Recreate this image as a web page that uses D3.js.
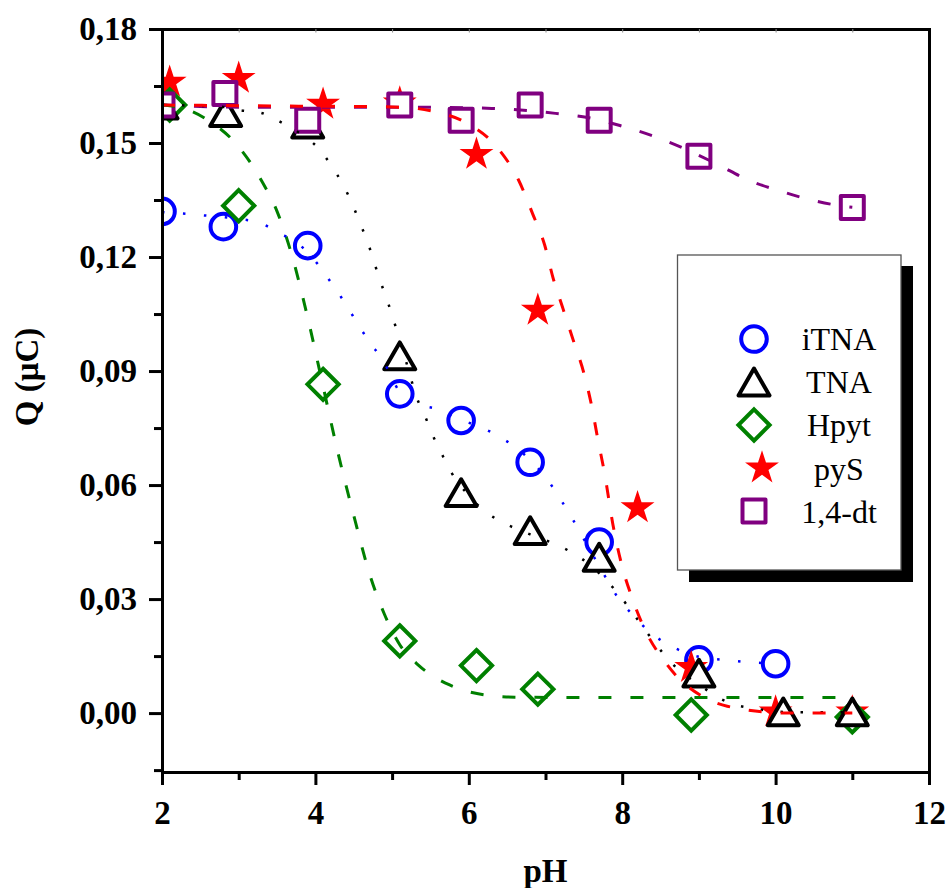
<!DOCTYPE html>
<html><head><meta charset="utf-8">
<script src="https://cdn.jsdelivr.net/npm/d3@7"></script>
<style>body{margin:0;background:#fff} svg{display:block} svg text{font-family:"Liberation Serif","Times New Roman",Times,serif;}</style>
</head><body>
<svg id="c" width="949" height="888"></svg>
<script>
// ---------- data ----------
const seriesNames = ["iTNA", "TNA", "Hpyt", "pyS", "1,4-dt"];

const pH_iTNA = [2.0, 2.8, 3.9, 5.1, 5.9, 6.8, 7.7, 9.0, 10.0];
const Q_iTNA  = [0.132, 0.128, 0.123, 0.084, 0.077, 0.066, 0.045, 0.014, 0.013];

const pH_TNA = [2.0, 2.83, 3.9, 5.1, 5.9, 6.8, 7.7, 9.0, 10.1, 11.0];
const Q_TNA  = [0.160, 0.158, 0.155, 0.094, 0.058, 0.048, 0.041, 0.0105, 0.0003, 0.0003];

const pH_Hpyt = [2.1, 3.0, 4.1, 5.1, 6.1, 6.9, 8.9, 11.0];
const Q_Hpyt  = [0.160, 0.1335, 0.0865, 0.019, 0.0125, 0.0063, -0.0005, -0.001];

const pH_pyS = [2.1, 3.0, 4.1, 5.1, 6.1, 6.9, 8.2, 8.9, 10.0, 11.0];
const Q_pyS  = [0.166, 0.167, 0.1602, 0.1605, 0.147, 0.106, 0.054, 0.012, 0.0003, 0.0003];

const pH_dt = [2.0, 2.82, 3.9, 5.1, 5.9, 6.8, 7.7, 9.0, 11.0];
const Q_dt  = [0.160, 0.163, 0.156, 0.160, 0.156, 0.160, 0.156, 0.1465, 0.133];

// fitted curves
const fit_iTNA_pH = [2.0, 2.23, 2.52, 3.01, 3.28, 3.51, 3.77, 4.02, 4.21, 4.38, 4.54, 4.70, 4.88, 5.1, 5.35, 5.58, 5.83, 6.34, 6.57, 6.83, 7.04, 7.21, 7.36, 7.50, 7.64, 7.79, 7.94, 8.14, 8.38, 8.64, 9.0, 9.39, 9.64, 10.0];
const fit_iTNA_Q  = [0.1318, 0.1315, 0.131, 0.130, 0.129, 0.1265, 0.1236, 0.1184, 0.1131, 0.1081, 0.1028, 0.0978, 0.0928, 0.0845, 0.0812, 0.0800, 0.0778, 0.0734, 0.0705, 0.066, 0.061, 0.0558, 0.0508, 0.0458, 0.0408, 0.0355, 0.0305, 0.0258, 0.021, 0.0176, 0.0148, 0.0139, 0.0134, 0.0131];

const fit_TNA_pH = [2.0, 2.8, 3.02, 3.28, 3.5, 3.8, 4.02, 4.21, 4.36, 4.48, 4.58, 4.68, 4.76, 4.84, 4.93, 5.01, 5.17, 5.24, 5.32, 5.43, 5.53, 5.65, 5.78, 5.97, 6.21, 6.46, 6.8, 7.21, 7.46, 7.71, 7.94, 8.14, 8.32, 8.51, 8.74, 9.0, 9.24, 9.49, 9.75, 10.1, 10.48, 11.0];
const fit_TNA_Q  = [0.160, 0.1595, 0.1586, 0.158, 0.156, 0.1525, 0.149, 0.144, 0.139, 0.134, 0.129, 0.124, 0.119, 0.114, 0.109, 0.104, 0.0934, 0.0884, 0.0831, 0.0781, 0.0731, 0.0681, 0.0631, 0.0579, 0.0531, 0.050, 0.047, 0.0437, 0.0408, 0.0366, 0.0316, 0.0263, 0.0213, 0.0163, 0.0113, 0.0076, 0.0042, 0.0021, 0.0011, 0.0003, 0.0002, 0.0002];

const fit_Hpyt_pH = [2.0, 2.3, 2.6, 3.0, 3.3, 3.5, 3.7, 3.9, 4.1, 4.3, 4.5, 4.7, 4.9, 5.1, 5.35, 5.75, 6.2, 6.6, 7.5, 11.0];
const fit_Hpyt_Q  = [0.160, 0.159, 0.156, 0.149, 0.140, 0.132, 0.120, 0.104, 0.086, 0.068, 0.052, 0.037, 0.026, 0.018, 0.0125, 0.0074, 0.0048, 0.0042, 0.0041, 0.0041];

const fit_pyS_pH = [2.0, 3.8, 4.71, 5.14, 5.54, 5.96, 6.38, 6.65, 6.83, 6.99, 7.10, 7.23, 7.37, 7.50, 7.60, 7.68, 7.77, 7.88, 8.0, 8.12, 8.27, 8.59, 9.11, 9.37, 10.17, 11.0];
const fit_pyS_Q  = [0.160, 0.1597, 0.1596, 0.1594, 0.1583, 0.1554, 0.1486, 0.1402, 0.1315, 0.1231, 0.1144, 0.1063, 0.0976, 0.0895, 0.0810, 0.0723, 0.0631, 0.0495, 0.0385, 0.0308, 0.0231, 0.0126, 0.0037, 0.0018, 0.0, 0.0];

const fit_dt_pH = [2.0, 2.5, 3.35, 4.59, 5.45, 6.30, 7.13, 7.55, 7.97, 8.38, 8.80, 9.24, 9.65, 10.07, 10.49, 10.91, 11.0];
const fit_dt_Q  = [0.160, 0.1596, 0.1594, 0.1594, 0.1594, 0.1591, 0.1578, 0.1567, 0.1546, 0.152, 0.1486, 0.1444, 0.1402, 0.1373, 0.1349, 0.1333, 0.1331];

// axis ticks
const xMajorTicks = [2, 4, 6, 8, 10, 12];
const xMinorTicks = [3, 5, 7, 9, 11];
const xTopTicks   = [3, 4, 5, 6, 7, 8, 9, 10, 11];
const yMajorTicks = [0, 0.03, 0.06, 0.09, 0.12, 0.15, 0.18];
const yTickLabels = ["0,00", "0,03", "0,06", "0,09", "0,12", "0,15", "0,18"];
const yMinorTicks = [-0.015, 0.015, 0.045, 0.075, 0.105, 0.135, 0.165];

// ---------- setup ----------
const svg = d3.select("#c");
const L = 162, R = 929, T = 29, B = 772;
const x = d3.scaleLinear().domain([2, 12]).range([L, R]);
const y = d3.scaleLinear().domain([-0.0155, 0.18]).range([B, T]);

// custom symbols
const symCircle = {draw(c, r){ c.moveTo(r, 0); c.arc(0, 0, r, 0, 2*Math.PI); }};
const symTri = {draw(c, s){ const h = s*0.866; c.moveTo(0, -h/2); c.lineTo(s/2, h/2); c.lineTo(-s/2, h/2); c.closePath(); }};
const symDia = {draw(c, d){ c.moveTo(0, -d); c.lineTo(d, 0); c.lineTo(0, d); c.lineTo(-d, 0); c.closePath(); }};
const symSq = {draw(c, a){ c.rect(-a/2, -a/2, a, a); }};
const symStar = {draw(c, Rr){ const ri = Rr*0.382; for(let i=0;i<10;i++){ const ang = -Math.PI/2 + i*Math.PI/5; const rr = i%2? ri : Rr; const px = rr*Math.cos(ang), py = rr*Math.sin(ang); if(i===0) c.moveTo(px,py); else c.lineTo(px,py);} c.closePath(); }};

const series = [
  {name: seriesNames[0], xs: pH_iTNA, ys: Q_iTNA, fx: fit_iTNA_pH, fy: fit_iTNA_Q, color: "#0000ff", sym: symCircle, size: 12.8, join: "round", dash: "2.5,18.5", lw: 2.5, filled: false},
  {name: seriesNames[1], xs: pH_TNA, ys: Q_TNA, fx: fit_TNA_pH, fy: fit_TNA_Q, color: "#000000", sym: symTri, size: 31, join: "round", dash: "2.5,17.5", lw: 2.5, filled: false},
  {name: seriesNames[2], xs: pH_Hpyt, ys: Q_Hpyt, fx: fit_Hpyt_pH, fy: fit_Hpyt_Q, color: "#008000", sym: symDia, size: 15.6, join: "miter", dash: "13,19", lw: 3, filled: false},
  {name: seriesNames[3], xs: pH_pyS, ys: Q_pyS, fx: fit_pyS_pH, fy: fit_pyS_Q, color: "#ff0000", sym: symStar, size: 17.8, join: "miter", dash: "13,19", lw: 3, filled: true},
  {name: seriesNames[4], xs: pH_dt, ys: Q_dt, fx: fit_dt_pH, fy: fit_dt_Q, color: "#800080", sym: symSq, size: 23, join: "round", dash: "13,19", lw: 3, filled: false}
];

// clip
svg.append("defs").append("clipPath").attr("id", "plotclip")
  .append("rect").attr("x", L).attr("y", T).attr("width", R - L).attr("height", B - T);
const plot = svg.append("g").attr("clip-path", "url(#plotclip)");

function drawSymbol(g, s, cx, cy){
  g.append("path")
    .attr("d", d3.symbol().type(s.sym).size(s.size)())
    .attr("transform", `translate(${cx},${cy})`)
    .attr("fill", s.filled ? s.color : "#ffffff")
    .attr("stroke", s.filled ? "none" : s.color)
    .attr("stroke-width", 4)
    .attr("stroke-linejoin", s.join);
}

// markers (stacking order)
const markerOrder = [0, 3, 2, 1, 4];
markerOrder.forEach(i => {
  const s = series[i];
  const g = plot.append("g");
  d3.zip(s.xs, s.ys).forEach(([px, py]) => drawSymbol(g, s, x(px), y(py)));
});

// fitted lines on top
const line = d3.line().x(d => x(d[0])).y(d => y(d[1])).curve(d3.curveMonotoneX);
[4, 2, 0, 1, 3].forEach(i => {
  const s = series[i];
  plot.append("path")
    .attr("d", line(d3.zip(s.fx, s.fy)))
    .attr("fill", "none")
    .attr("stroke", s.color)
    .attr("stroke-width", s.lw)
    .attr("stroke-dasharray", s.dash);
});

// ---------- axes ----------
function styleAxis(g, fs){
  g.attr("font-family", null);
  g.selectAll(".domain").attr("stroke", "#000").attr("stroke-width", 3).attr("stroke-linecap", "square");
  g.selectAll(".tick line").attr("stroke", "#000").attr("stroke-width", 3);
  g.selectAll("text").attr("font-weight", "bold").attr("font-size", fs).attr("fill", "#000");
}
// top & right
const gTop = svg.append("g").attr("transform", `translate(0,${T})`)
  .call(d3.axisTop(x).tickValues(xTopTicks).tickSizeInner(-3.5).tickSizeOuter(0).tickFormat(""));
styleAxis(gTop, 0);
gTop.selectAll(".tick line").attr("stroke", "#888").attr("stroke-width", 1);
const gRight = svg.append("g").attr("transform", `translate(${R},0)`)
  .call(d3.axisRight(y).tickValues([]).tickSizeOuter(0));
styleAxis(gRight, 0);

// bottom
const gxMinor = svg.append("g").attr("transform", `translate(0,${B})`)
  .call(d3.axisBottom(x).tickValues(xMinorTicks).tickSize(8).tickSizeOuter(0).tickFormat(""));
styleAxis(gxMinor, 0);
const gx = svg.append("g").attr("transform", `translate(0,${B})`)
  .call(d3.axisBottom(x).tickValues(xMajorTicks).tickSize(13).tickSizeOuter(0).tickPadding(15.5).tickFormat(d3.format("d")));
styleAxis(gx, 33);

// left
const gyMinor = svg.append("g").attr("transform", `translate(${L},0)`)
  .call(d3.axisLeft(y).tickValues(yMinorTicks).tickSize(8).tickSizeOuter(0).tickFormat(""));
styleAxis(gyMinor, 0);
const gy = svg.append("g").attr("transform", `translate(${L},0)`)
  .call(d3.axisLeft(y).tickValues(yMajorTicks).tickSize(13).tickSizeOuter(0).tickPadding(12)
    .tickFormat((d, i) => yTickLabels[i]));
styleAxis(gy, 33);

// axis titles
svg.append("text").attr("x", (L + R) / 2).attr("y", 882).attr("text-anchor", "middle")
  .attr("font-weight", "bold").attr("font-size", 33).text("pH");
svg.append("text").attr("transform", "translate(38,377) rotate(-90)").attr("text-anchor", "middle")
  .attr("font-weight", "bold").attr("font-size", 33).text("Q (\u03bcC)");

// ---------- legend ----------
const lg = svg.append("g");
lg.append("rect").attr("x", 689).attr("y", 266).attr("width", 224).attr("height", 316).attr("fill", "#000");
lg.append("rect").attr("x", 677.5).attr("y", 255).attr("width", 223.5).attr("height", 315)
  .attr("fill", "#fff").attr("stroke", "#555").attr("stroke-width", 1.3);
series.forEach((s, i) => {
  const cy = 339 + 43 * i;
  drawSymbol(lg, s, s.filled ? 762 : 754, cy);
  lg.append("text").attr("x", 839).attr("y", 350 + 43.2 * i).attr("text-anchor", "middle")
    .attr("font-size", 32).attr("fill", "#000").text(s.name);
});
</script></body></html>
